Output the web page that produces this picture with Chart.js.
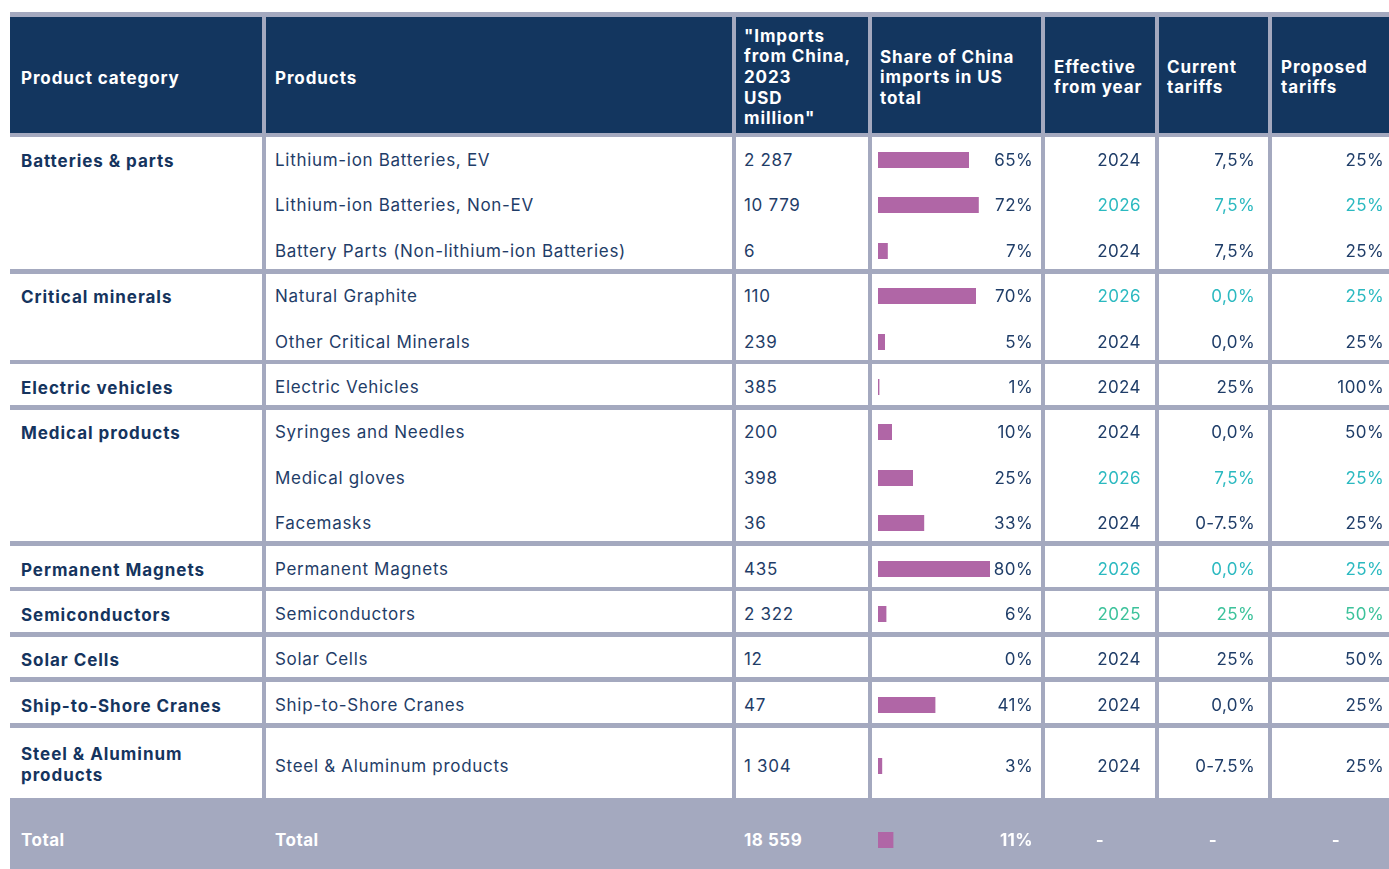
<!DOCTYPE html>
<html>
<head>
<meta charset="utf-8">
<script src="https://cdn.jsdelivr.net/npm/chart.js@4.4.1/dist/chart.umd.min.js"></script>
<style>
  body { margin: 0; background: #fff; }
  #wrap { position: relative; width: 1389px; height: 869px; overflow: hidden; background: #fff;
          font-family: Inter, "Open Sans", sans-serif; }
  .box { position: absolute; }
  .t { position: absolute; white-space: nowrap; color: #1f3d68; font-size: 17px; line-height: 21px;
       letter-spacing: 0.7px; transform: translateY(-50%); }
  .b { font-weight: 700; color: #15345e; letter-spacing: 0.95px; }
  .h { font-weight: 700; color: #fff; line-height: 20.7px; letter-spacing: 0.9px; }
  .w { font-weight: 700; color: #fff; letter-spacing: 0.5px; }
  canvas.mini { position: absolute; }
</style>
</head>
<body>
<div id="wrap"></div>
<script>
// --- data ---
const categories = ["Batteries & parts", "Critical minerals", "Electric vehicles", "Medical products",
  "Permanent Magnets", "Semiconductors", "Solar Cells", "Ship-to-Shore Cranes", "Steel & Aluminum<br>products"];
const groupSizes = [3, 2, 1, 3, 1, 1, 1, 1, 1];
const products = ["Lithium-ion Batteries, EV", "Lithium-ion Batteries, Non-EV", "Battery Parts (Non-lithium-ion Batteries)",
  "Natural Graphite", "Other Critical Minerals", "Electric Vehicles", "Syringes and Needles", "Medical gloves",
  "Facemasks", "Permanent Magnets", "Semiconductors", "Solar Cells", "Ship-to-Shore Cranes", "Steel & Aluminum products"];
const importsUsdM = [2287, 10779, 6, 110, 239, 385, 200, 398, 36, 435, 2322, 12, 47, 1304];
const sharePct = [65, 72, 7, 70, 5, 1, 10, 25, 33, 80, 6, 0, 41, 3];
const effectiveYear = [2024, 2026, 2024, 2026, 2024, 2024, 2024, 2026, 2024, 2026, 2025, 2024, 2024, 2024];
const currentTariffs = ["7,5%", "7,5%", "7,5%", "0,0%", "0,0%", "25%", "0,0%", "7,5%", "0-7.5%", "0,0%", "25%", "25%", "0,0%", "0-7.5%"];
const proposedTariffs = ["25%", "25%", "25%", "25%", "25%", "100%", "50%", "25%", "25%", "25%", "50%", "50%", "25%", "25%"];
const totalImports = 18559;
const totalShare = 11;
const headers = ["Product category", "Products", "\"Imports<br>from China,<br>2023<br>USD<br>million\"",
  "Share of China<br>imports in US<br>total", "Effective<br>from year", "Current<br>tariffs", "Proposed<br>tariffs"];

// --- layout ---
const wrap = document.getElementById("wrap");
const cols = [[10, 262], [266, 732], [736, 868], [872, 1041], [1045, 1155], [1159, 1268], [1272, 1400]];
const padL = [11, 9, 8, 8, 9, 8, 9];
const ROW = 45.4, LINE = 4.6, TALL = 75.1;
const NAVY = "#13365f", GRID = "#a4a9bf", BAR = "#b066a6";
const yearColor = { 2024: "#1f3d68", 2025: "#3cc29b", 2026: "#2bb9c0" };

function box(x, y, w, h, color) {
  const d = document.createElement("div");
  d.className = "box";
  d.style.cssText = `left:${x}px;top:${y}px;width:${w}px;height:${h}px;background:${color}`;
  wrap.appendChild(d);
}
function text(html, x, y, cls, align, color) {
  const d = document.createElement("div");
  d.className = "t " + (cls || "");
  d.innerHTML = html;
  if (align === "right") { d.style.right = (1389 - x) + "px"; d.style.textAlign = "right"; d.style.letterSpacing = "0.4px"; }
  else if (align === "center") { d.style.left = x + "px"; d.style.transform = "translate(-50%,-50%)"; }
  else d.style.left = x + "px";
  d.style.top = y + "px";
  if (color) d.style.color = color;
  wrap.appendChild(d);
}
function fmt(n) { return String(n).replace(/\B(?=(\d{3})+(?!\d))/g, " "); }

function miniBar(value, cy) {
  const cv = document.createElement("canvas");
  cv.className = "mini";
  cv.width = 140; cv.height = 44;
  cv.style.left = "878px"; cv.style.top = (cy - 22) + "px";
  wrap.appendChild(cv);
  new Chart(cv, {
    type: "bar",
    data: { labels: [""], datasets: [{ data: [value], backgroundColor: BAR, borderWidth: 0, barThickness: 16, inflateAmount: 0 }] },
    options: {
      indexAxis: "y", responsive: false, animation: false, events: [],
      layout: { padding: 0 },
      plugins: { legend: { display: false }, tooltip: { enabled: false } },
      scales: { x: { display: false, min: 0, max: 100 }, y: { display: false } }
    }
  });
}

// grey background = grid lines + total row
box(10, 12, 1390, 870, GRID);

// header
cols.forEach((c, i) => {
  box(c[0], 17, c[1] - c[0], 115.7, NAVY);
  text(headers[i], c[0] + padL[i], 77.5, "h");
});

// body
let y = 137.3, r = 0;
categories.forEach((cat, g) => {
  const n = groupSizes[g];
  const tall = g === categories.length - 1;
  const h = tall ? 70.7 : n * ROW - LINE;
  cols.forEach(c => box(c[0], y, c[1] - c[0], h, "#fff"));
  for (let k = 0; k < n; k++, r++) {
    const cy = tall ? y + 38.5 : y + k * ROW + 22.7;
    if (k === 0) text(cat, 21, tall ? cy - 1 : cy + 1, "b");
    const col = yearColor[effectiveYear[r]];
    text(products[r], 275, cy);
    text(fmt(importsUsdM[r]), 744, cy);
    miniBar(sharePct[r], cy);
    text(sharePct[r] + "%", 1033, cy, "", "right");
    text(effectiveYear[r], 1141, cy, "", "right", col);
    text(currentTariffs[r], 1255, cy, "", "right", col);
    text(proposedTariffs[r], 1384, cy, "", "right", col);
  }
  y += tall ? TALL : n * ROW;
});

// total row
const ty = 840;
text("Total", 21, ty, "w");
text("Total", 275, ty, "w");
text(fmt(totalImports), 744, ty, "w");
miniBar(totalShare, ty);
text(totalShare + "%", 1033, ty, "w", "right");
text("-", 1100, ty, "w", "center");
text("-", 1213, ty, "w", "center");
text("-", 1336, ty, "w", "center");
</script>
</body>
</html>
